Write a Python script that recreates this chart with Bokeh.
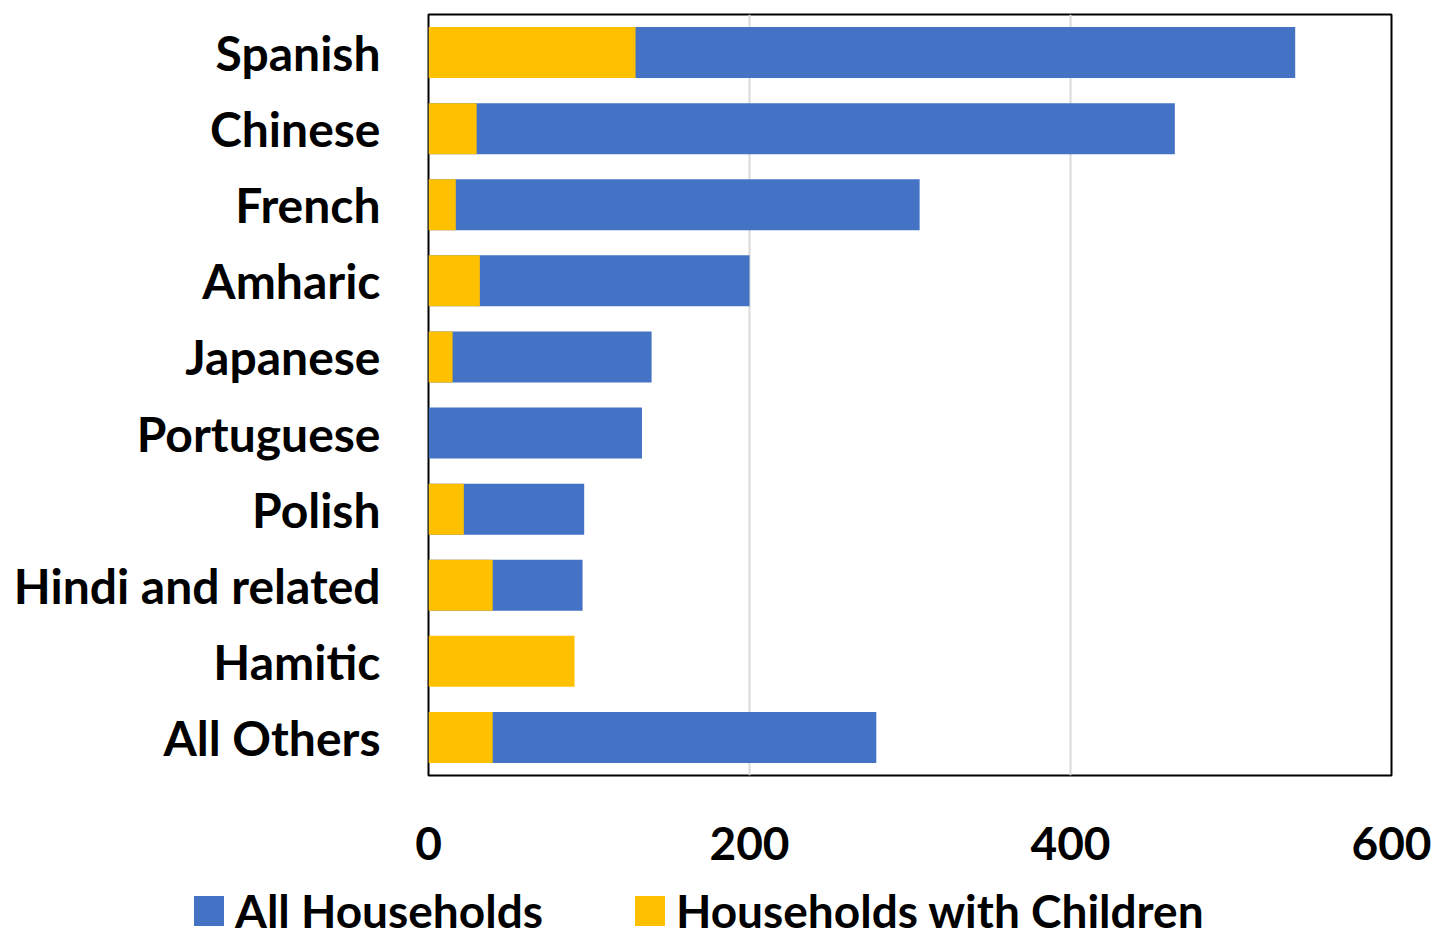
from bokeh.plotting import figure
from bokeh.layouts import column
from bokeh.models import FactorRange, Range1d, FixedTicker, Div
from bokeh.embed import file_html
from bokeh.resources import INLINE

categories = ["Spanish", "Chinese", "French", "Amharic", "Japanese",
              "Portuguese", "Polish", "Hindi and related", "Hamitic", "All Others"]
all_households = [540, 465, 306, 200, 139, 133, 97, 96, 0, 279]
households_with_children = [129, 30, 17, 32, 15, 0, 22, 40, 91, 40]
x_ticks = [0, 200, 400, 600]
series_names = ["All Households", "Households with Children"]

FONT = "Lato"
BLUE = "#4472C4"
YELLOW = "#FFC000"
series_colors = [BLUE, YELLOW]

p = figure(frame_width=963, frame_height=761, output_backend="svg", toolbar_location=None,
           y_range=FactorRange(*reversed(categories)), x_range=Range1d(0, 600),
           min_border_left=428, min_border_right=40, min_border_top=14,
           min_border_bottom=110)

p.hbar(y=categories, right=all_households, height=0.67, left=0,
       fill_color=BLUE, line_color=None)
p.hbar(y=categories, right=households_with_children, height=0.67, left=0,
       fill_color=YELLOW, line_color=None)

p.xaxis.ticker = FixedTicker(ticks=x_ticks)
for ax in (p.xaxis[0], p.yaxis[0]):
    ax.axis_line_color = None
    ax.major_tick_line_color = None
    ax.minor_tick_line_color = None
    ax.major_label_text_font = FONT
    ax.major_label_text_font_style = "bold"
    ax.major_label_text_color = "black"
p.xaxis.major_label_text_font_size = "46px"
p.yaxis.major_label_text_font_size = "48px"
p.yaxis.major_label_standoff = 42
p.xaxis.major_label_standoff = 45

p.ygrid.grid_line_color = None
p.xgrid.grid_line_color = "#d9d9d9"
p.xgrid.grid_line_width = 2
p.outline_line_color = "black"
p.outline_line_width = 2

# legend strip below the chart
gaps = [194, 92]
parts = []
for name, color, gap in zip(series_names, series_colors, gaps):
    parts.append(
        f'<span style="display:inline-block;width:30px;height:30px;background:{color};'
        f'margin-left:{gap}px;margin-right:11px;flex:none;"></span>'
        f'<span style="flex:none;">{name}</span>')
legend_html = ('<div style="display:flex;align-items:center;height:46px;position:relative;top:3px;'
               'font-family:Lato;font-weight:bold;font-size:46px;line-height:46px;color:black;'
               'white-space:nowrap;">' + "".join(parts) + '</div>')
legend_div = Div(text=legend_html, width=1431, height=46, margin=0)

layout = column(p, legend_div, spacing=0)
open("out.html", "w").write(file_html(layout, INLINE))
